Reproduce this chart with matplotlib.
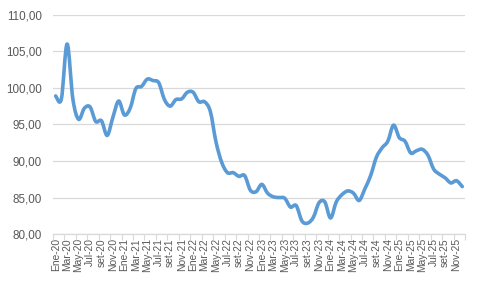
import numpy as np
import matplotlib.pyplot as plt
from matplotlib.path import Path
from matplotlib.patches import PathPatch

# monthly values, Ene-20 .. Dic-25
v2020 = [98.9, 98.5, 106.0, 98.5, 95.7, 97.2, 97.4, 95.4, 95.5, 93.5, 96.0, 98.2]
v2021 = [96.3, 97.2, 99.9, 100.2, 101.2, 101.0, 100.7, 98.4, 97.5, 98.4, 98.5, 99.4]
v2022 = [99.4, 98.1, 98.1, 96.8, 92.6, 89.8, 88.4, 88.4, 87.9, 88.0, 86.0, 85.8]
v2023 = [86.8, 85.6, 85.1, 85.0, 84.9, 83.7, 83.9, 81.8, 81.5, 82.3, 84.3, 84.4]
v2024 = [82.2, 84.4, 85.4, 85.9, 85.6, 84.6, 86.2, 88.0, 90.5, 91.8, 92.7, 94.9]
v2025 = [93.2, 92.7, 91.1, 91.4, 91.6, 90.8, 88.9, 88.2, 87.7, 87.0, 87.3, 86.5]

months = ['Ene', 'Feb', 'Mar', 'Abr', 'May', 'Jun', 'Jul', 'Ago', 'set', 'Oct', 'Nov', 'Dic']
years = ['20', '21', '22', '23', '24', '25']

values = np.array(v2020 + v2021 + v2022 + v2023 + v2024 + v2025)
labels = [m + '-' + y for y in years for m in months]
x = np.arange(len(values))


def smooth_path(xs, ys):
    # excel-style smoothed line: bezier segments through every point
    pts = np.column_stack([xs, ys])
    n = len(pts)
    verts = [pts[0]]
    codes = [Path.MOVETO]
    for i in range(n - 1):
        p0 = pts[i - 1] if i > 0 else pts[i]
        p1 = pts[i]
        p2 = pts[i + 1]
        p3 = pts[i + 2] if i + 2 < n else pts[i + 1]
        c1 = p1 + (p2 - p0) / 6.0
        c2 = p2 - (p3 - p1) / 6.0
        verts += [c1, c2, p2]
        codes += [Path.CURVE4] * 3
    return Path(verts, codes)


plt.rcParams['font.family'] = ['Liberation Sans', 'DejaVu Sans']
grey = '#595959'

fig = plt.figure(figsize=(4.8, 3.08), dpi=100)
ax = fig.add_axes([0.110, 0.240, 0.859, 0.712])

patch = PathPatch(smooth_path(x, values), facecolor='none', edgecolor='#5B9BD5',
                  linewidth=2.6, capstyle='round', joinstyle='round', zorder=3)
ax.add_patch(patch)

ax.set_xlim(-0.5, len(values) - 0.5)
ax.set_ylim(80, 110)
ax.set_yticks(np.arange(80, 111, 5))
ax.set_yticklabels([f'{t:.2f}'.replace('.', ',') for t in np.arange(80, 111, 5)],
                   fontsize=8.4, color=grey)
ax.set_xticks(x[::2])
ax.set_xticklabels(labels[::2], rotation=90, fontsize=7.4, color=grey)
ax.set_xticks(np.arange(-0.5, len(values), 2), minor=True)
ax.tick_params(axis='x', which='major', length=0, pad=3)
ax.tick_params(axis='x', which='minor', length=4, color='#d9d9d9', width=0.8)
ax.tick_params(axis='y', length=0, pad=8)

ax.grid(axis='y', color='#d9d9d9', linewidth=0.9)
ax.set_axisbelow(True)
for s in ['top', 'right', 'left']:
    ax.spines[s].set_visible(False)
ax.spines['bottom'].set_color('#d9d9d9')
ax.spines['bottom'].set_linewidth(0.9)

fig.savefig('out.png', dpi=100)
